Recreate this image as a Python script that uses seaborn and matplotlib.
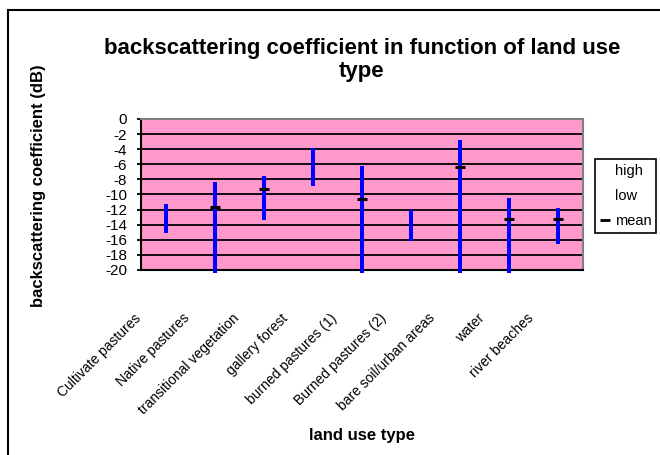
import matplotlib
matplotlib.use("Agg")
import matplotlib.pyplot as plt
import matplotlib.transforms as mtransforms
from matplotlib.lines import Line2D
from matplotlib.patches import Rectangle
import numpy as np
import pandas as pd
import seaborn as sns

sns.set_style("white")
plt.rcParams["font.family"] = ["Liberation Sans", "DejaVu Sans"]
plt.rcParams["axes.unicode_minus"] = False
for key in ["text.color", "axes.labelcolor", "xtick.color", "ytick.color"]:
    plt.rcParams[key] = "black"

# values (dB)
categories = [
    "Cultivate pastures",
    "Native pastures",
    "transitional vegetation",
    "gallery forest",
    "burned pastures (1)",
    "Burned pastures (2)",
    "bare soil/urban areas",
    "water",
    "river beaches",
]
high = [-11.3, -8.3, -7.6, -3.8, -6.2, -12.0, -2.8, -10.5, -11.8]
low = [-15.1, -20.4, -13.4, -8.9, -20.4, -16.2, -20.4, -20.4, -16.5]
mean = [np.nan, -11.7, -9.3, np.nan, -10.6, np.nan, -6.4, -13.3, -13.3]
y_ticks = list(range(-20, 1, 2))

df = pd.DataFrame({
    "land use type": categories,
    "pos": np.arange(len(categories)),
    "high": high,
    "low": low,
    "mean": mean,
})

fig = plt.figure(figsize=(6.6, 4.55), dpi=100)
ax = fig.add_axes([0.2136, 0.4066, 0.6697, 0.3319])
ax.set_facecolor("#FF99CC")

# high-low bars
ax.vlines(df["pos"], df["low"], df["high"], colors="#0000FF", linewidth=2.9,
          clip_on=False, zorder=3)
# mean dashes
sns.scatterplot(data=df, x="pos", y="mean", marker="_", s=45, color="black",
                linewidth=2.2, ax=ax, zorder=4, legend=False)

ax.set_xlim(-0.5, len(categories) - 0.5)
ax.set_ylim(-20, 0)
ax.set_yticks(y_ticks)
ax.set_yticklabels([str(t) for t in y_ticks])
ax.grid(axis="y", color="black", linewidth=1.3)
ax.grid(axis="x", visible=False)

for side in ["left", "bottom"]:
    ax.spines[side].set_color("black")
    ax.spines[side].set_linewidth(1.5)
for side in ["top", "right"]:
    ax.spines[side].set_color("#808080")
    ax.spines[side].set_linewidth(1.5)

ax.tick_params(axis="y", left=True, length=3, width=1.3, color="black",
               pad=7, labelsize=11)
ax.set_xticks(df["pos"])
ax.set_xticklabels(categories, fontsize=10)
ax.tick_params(axis="x", bottom=False, length=0, pad=0)
offset = mtransforms.ScaledTranslation(-0.27, -0.46, fig.dpi_scale_trans)
for label in ax.get_xticklabels():
    label.set_rotation(45)
    label.set_ha("right")
    label.set_va("center")
    label.set_rotation_mode("anchor")
    label.set_transform(label.get_transform() + offset)

ax.set_title("backscattering coefficient in function of land use\ntype",
             fontsize=16, fontweight="bold", pad=30, linespacing=1.15)
ax.set_xlabel("land use type", fontsize=12, fontweight="bold")
ax.set_ylabel("backscattering coefficient (dB)", fontsize=12, fontweight="bold")
ax.xaxis.set_label_coords(0.499, -1.046)
ax.yaxis.set_label_coords(-0.215, 0.56)

handles = [
    Line2D([], [], linestyle="none"),
    Line2D([], [], linestyle="none"),
    Line2D([], [], color="black", marker="_", linestyle="none",
           markersize=6.5, markeredgewidth=2),
]
leg = fig.legend(handles, ["high", "low", "mean"], loc="upper left",
                 bbox_to_anchor=(0.9015, 0.6505), borderaxespad=0,
                 frameon=True, fancybox=False, edgecolor="black",
                 framealpha=1, fontsize=10.5, borderpad=0.35,
                 handlelength=0.7, handletextpad=0.3, labelspacing=0.75)
leg.get_frame().set_linewidth(1.2)

# outer chart border (left and top edges visible in the reference)
fig.add_artist(Rectangle((8 / 660, -0.1), 1.2, 1.1 - 10 / 455,
                         transform=fig.transFigure, fill=False,
                         edgecolor="black", linewidth=1.5))

fig.savefig("out.png", dpi=100)
